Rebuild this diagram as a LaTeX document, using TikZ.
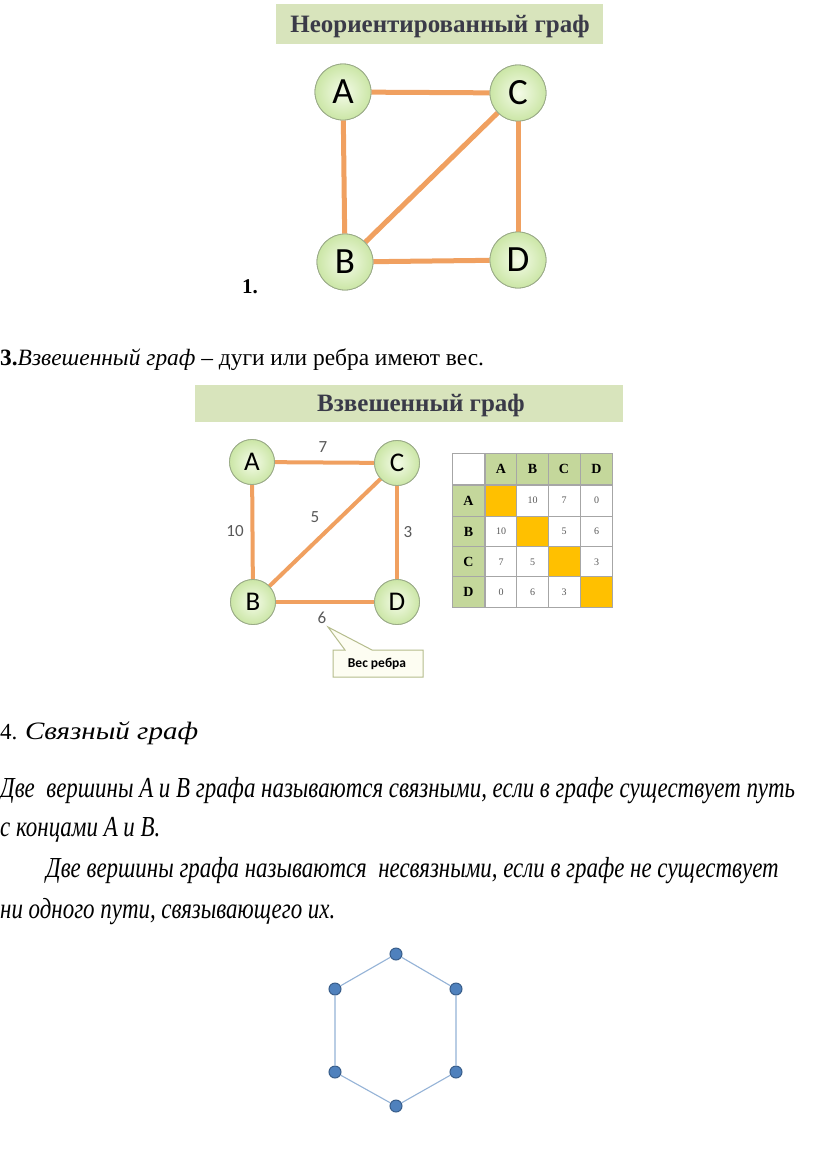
\documentclass[tikz,border=0pt]{standalone}
\usepackage{fontspec}
\setmainfont{Liberation Serif}
\newfontfamily\calib{Carlito}
\newfontfamily\condit[FakeStretch=0.79]{Liberation Serif}
\newfontfamily\wideit[FakeStretch=1.16]{Liberation Serif}
\definecolor{banner}{HTML}{D8E4BC}
\definecolor{bannertext}{HTML}{3A3A48}
\definecolor{edgeor}{HTML}{F0A060}
\definecolor{nodein}{HTML}{F4FBE8}
\definecolor{nodeout}{HTML}{CBE6A6}
\definecolor{nodeborder}{HTML}{9AAA88}
\definecolor{hdr}{HTML}{C4D79B}
\definecolor{diag}{HTML}{FFC000}
\definecolor{grid}{HTML}{A6A6A6}
\definecolor{weight}{HTML}{595959}
\definecolor{callfill}{HTML}{FDFDF2}
\definecolor{callborder}{HTML}{B5BC8C}
\definecolor{hexfill}{HTML}{4F81BD}
\definecolor{hexborder}{HTML}{385D8A}
\definecolor{hexline}{HTML}{95B3D7}
\tikzset{
  bannerbox/.style={fill=banner, draw=none, inner sep=0pt},
  bannerlabel/.style={text=bannertext, font=\fontsize{25}{28}\selectfont\bfseries, inner sep=0pt},
  vbig/.style={circle, minimum size=56pt, inner sep=0pt, draw=nodeborder, line width=0.8pt,
    inner color=nodein, outer color=nodeout, font=\calib\fontsize{37}{37}\selectfont},
  vsmall/.style={circle, minimum size=45pt, inner sep=0pt, draw=nodeborder, line width=0.8pt,
    inner color=nodein, outer color=nodeout, font=\calib\fontsize{27}{27}\selectfont},
  edgebig/.style={draw=edgeor, line width=5pt},
  edgesmall/.style={draw=edgeor, line width=4pt},
  wlabel/.style={text=weight, font=\calib\fontsize{17}{17}\selectfont, inner sep=0pt},
  cell/.style={minimum width=31.8pt, minimum height=30.8pt, inner sep=0pt, draw=grid, line width=0.6pt},
  hcell/.style={cell, fill=hdr, font=\fontsize{14}{14}\selectfont\bfseries},
  dcell/.style={cell, fill=diag},
  ncell/.style={cell, fill=white, text=weight, font=\fontsize{10}{10}\selectfont},
  bodytext/.style={inner sep=0pt, anchor=base west, font=\fontsize{23.4}{27}\selectfont},
  condtext/.style={inner sep=0pt, anchor=base west, font=\condit\itshape\fontsize{29}{32}\selectfont},
  hexnode/.style={circle, minimum size=12pt, inner sep=0pt, fill=hexfill, draw=hexborder, line width=1pt},
  hexedge/.style={draw=hexline, line width=1.1pt},
}
\begin{document}
\begin{tikzpicture}[x=1pt, y=-1pt]
\useasboundingbox (0,0) rectangle (816,1163);
\fill[white] (0,0) rectangle (816,1163);

% ---- Banner 1
\node[bannerbox, minimum width=327pt, minimum height=40pt] (ban1) at (439,24) {};
\node[bannerlabel] (ban1t) at (440,26) {Неориентированный граф};

% ---- Graph 1
\node[vbig] (A1) at (343,92) {A};
\node[vbig] (C1) at (518,93) {C};
\node[vbig] (B1) at (345,262) {B};
\node[vbig] (D1) at (518,260) {D};
\draw[edgebig] (A1) -- (C1);
\draw[edgebig] (A1) -- (B1);
\draw[edgebig] (C1) -- (D1);
\draw[edgebig] (B1) -- (D1);
\draw[edgebig] (B1) -- (C1);
\node[vbig] at (A1) {A};
\node[vbig] at (C1) {C};
\node[vbig] at (B1) {B};
\node[vbig] at (D1) {D};

\node[bodytext, font=\fontsize{21}{24}\selectfont\bfseries] (one) at (242,293) {1.};

% ---- Line 3
\node[bodytext] (line3) at (0,365) {\textbf{3.}\textit{Взвешенный граф} – дуги или ребра имеют вес.};

% ---- Banner 2
\node[bannerbox, minimum width=428pt, minimum height=37pt] (ban2) at (409,403.5) {};
\node[bannerlabel] (ban2t) at (421,405) {Взвешенный граф};

% ---- Graph 2
\node[vsmall] (A2) at (252,462) {A};
\node[vsmall] (C2) at (397,463) {C};
\node[vsmall] (B2) at (253,602) {B};
\node[vsmall] (D2) at (397,602) {D};
\draw[edgesmall] (A2) -- (C2);
\draw[edgesmall] (A2) -- (B2);
\draw[edgesmall] (C2) -- (D2);
\draw[edgesmall] (B2) -- (D2);
\draw[edgesmall] (B2) -- (C2);
\node[vsmall] at (A2) {A};
\node[vsmall] at (C2) {C};
\node[vsmall] at (B2) {B};
\node[vsmall] at (D2) {D};

\node[wlabel] (w7) at (323,447) {7};
\node[wlabel] (w10) at (235,531) {10};
\node[wlabel] (w5) at (315,517) {5};
\node[wlabel] (w3) at (408,532) {3};
\node[wlabel] (w6) at (322,618) {6};

% ---- Callout
\coordinate (tip) at (328,627);
\draw[callborder, fill=callfill, line width=1pt, line join=miter]
  (333,650) -- (345,650) -- (tip) -- (372,650) -- (423,650) -- (423,677) -- (333,677) -- cycle;
\node[inner sep=0pt, font=\calib\bfseries\fontsize{13.5}{14}\selectfont] (callt) at (377,664) {Вес ребра};

% ---- Table
\foreach \r/\y in {0/469,1/500.5,2/531.5,3/562,4/592}{
  \foreach \c/\x in {0/468.5,1/501,2/532.5,3/564,4/596.5}{
    \coordinate (t-\r-\c) at (\x,\y);
  }
}
\node[cell, fill=white] (h00) at (t-0-0) {};
\node[hcell] (h01) at (t-0-1) {A};
\node[hcell] (h02) at (t-0-2) {B};
\node[hcell] (h03) at (t-0-3) {C};
\node[hcell] (h04) at (t-0-4) {D};
\node[hcell] (h10) at (t-1-0) {A};
\node[hcell] (h20) at (t-2-0) {B};
\node[hcell] (h30) at (t-3-0) {C};
\node[hcell] (h40) at (t-4-0) {D};
\node[dcell] (c11) at (t-1-1) {};
\node[ncell] (c12) at (t-1-2) {10};
\node[ncell] (c13) at (t-1-3) {7};
\node[ncell] (c14) at (t-1-4) {0};
\node[ncell] (c21) at (t-2-1) {10};
\node[dcell] (c22) at (t-2-2) {};
\node[ncell] (c23) at (t-2-3) {5};
\node[ncell] (c24) at (t-2-4) {6};
\node[ncell] (c31) at (t-3-1) {7};
\node[ncell] (c32) at (t-3-2) {5};
\node[dcell] (c33) at (t-3-3) {};
\node[ncell] (c34) at (t-3-4) {3};
\node[ncell] (c41) at (t-4-1) {0};
\node[ncell] (c42) at (t-4-2) {6};
\node[ncell] (c43) at (t-4-3) {3};
\node[dcell] (c44) at (t-4-4) {};

% ---- Section 4
\node[bodytext, font=\fontsize{23}{26}\selectfont] (sec4) at (0,739) {4. {\wideit\itshape\fontsize{25}{26}\selectfont Связный граф}};
\node[condtext] (p1) at (0,797) {Две\ \ вершины A и B графа называются связными, если в графе существует путь};
\node[condtext] (p2) at (0,836) {с концами A и B.};
\node[condtext] (p3) at (46,877) {Две вершины графа называются\ \ несвязными, если в графе не существует};
\node[condtext] (p4) at (0,918) {ни одного пути, связывающего их.};

% ---- Hexagon
\node[hexnode] (h1) at (396,954) {};
\node[hexnode] (h2) at (456,989) {};
\node[hexnode] (h3) at (456,1072) {};
\node[hexnode] (h4) at (396,1106) {};
\node[hexnode] (h5) at (335,1072) {};
\node[hexnode] (h6) at (335,989) {};
\draw[hexedge] (h1) -- (h2) -- (h3) -- (h4) -- (h5) -- (h6) -- (h1);
\end{tikzpicture}
\end{document}
